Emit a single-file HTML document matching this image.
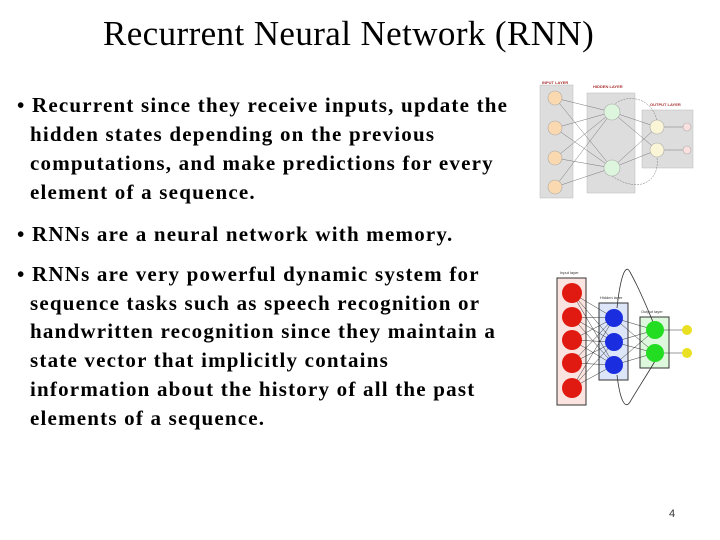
<!DOCTYPE html>
<html><head><meta charset="utf-8"><style>
body{margin:0;width:720px;height:540px;background:#fff;position:relative;overflow:hidden;font-family:"Liberation Serif",serif}
.t{position:absolute;left:103px;top:14px;font-size:35px;white-space:nowrap;line-height:40px;letter-spacing:0.4px}
.l{position:absolute;font-size:21px;font-weight:bold;white-space:nowrap;letter-spacing:1.2px;line-height:20px}
.pn{position:absolute;left:669px;top:508px;font-size:11px;font-family:"Liberation Sans",sans-serif;color:#333}
</style></head><body>
<div class="t">Recurrent Neural Network (RNN)</div>
<div class="l" style="left:17px;top:95px">• Recurrent since they receive inputs, update the</div>
<div class="l" style="left:30px;top:124px">hidden states depending on the previous</div>
<div class="l" style="left:30px;top:153px">computations, and make predictions for every</div>
<div class="l" style="left:30px;top:182px">element of a sequence.</div>
<div class="l" style="left:17px;top:224px">• RNNs are a neural network with memory.</div>
<div class="l" style="left:17px;top:264px">• RNNs are very powerful dynamic system for</div>
<div class="l" style="left:30px;top:293px">sequence tasks such as speech recognition or</div>
<div class="l" style="left:30px;top:321px">handwritten recognition since they maintain a</div>
<div class="l" style="left:30px;top:350px">state vector that implicitly contains</div>
<div class="l" style="left:30px;top:379px">information about the history of all the past</div>
<div class="l" style="left:30px;top:408px">elements of a sequence.</div>
<div class="pn">4</div>
<svg width="720" height="540" style="position:absolute;left:0;top:0" font-family="Liberation Sans">
<g stroke="#777" stroke-width="0.5" fill="none">
<rect x="540" y="85" width="33" height="113" fill="#ddd" stroke="#bbb"/>
<rect x="587" y="93" width="48" height="100" fill="#ddd" stroke="#bbb"/>
<rect x="642" y="110" width="51" height="58" fill="#ddd" stroke="#bbb"/>
<path d="M555 98L612 112M555 98L612 168M555 128L612 112M555 128L612 168M555 158L612 112M555 158L612 168M555 187L612 112M555 187L612 168M612 112L657 127M612 112L657 150M612 168L657 127M612 168L657 150M657 150L687 150M657 127L687 127"/>
<path d="M657 120C650 95 625 95 615 104M612 176C640 195 660 180 657 158" stroke-dasharray="2 1"/>
</g>
<g stroke="#aaa" stroke-width="0.6">
<circle cx="555" cy="98" r="7" fill="#fbd9b0"/><circle cx="555" cy="128" r="7" fill="#fbd9b0"/><circle cx="555" cy="158" r="7" fill="#fbd9b0"/><circle cx="555" cy="187" r="7" fill="#fbd9b0"/>
<circle cx="612" cy="112" r="8" fill="#dcf5dc"/><circle cx="612" cy="168" r="8" fill="#dcf5dc"/>
<circle cx="657" cy="127" r="7" fill="#fbf5d8"/><circle cx="657" cy="150" r="7" fill="#fbf5d8"/>
<circle cx="687" cy="127" r="4" fill="#fbe0e0"/><circle cx="687" cy="150" r="4" fill="#fbe0e0"/>
</g>
<text x="542" y="84" font-size="4" fill="#a33" font-weight="bold">INPUT LAYER</text>
<text x="593" y="88" font-size="4" fill="#a33" font-weight="bold">HIDDEN LAYER</text>
<text x="650" y="106" font-size="4" fill="#a33" font-weight="bold">OUTPUT LAYER</text>
<rect x="557" y="278" width="29" height="127" fill="#fbe3e0" stroke="#333" stroke-width="1"/>
<rect x="599" y="303" width="29" height="77" fill="#dde6f8" stroke="#333" stroke-width="1"/>
<rect x="640" y="317" width="29" height="51" fill="#ddf8dd" stroke="#333" stroke-width="1"/>
<g stroke="#333" stroke-width="0.5" fill="none">
<path d="M572 293L614 318M572 293L614 342M572 293L614 365M572 317L614 318M572 317L614 342M572 317L614 365M572 340L614 318M572 340L614 342M572 340L614 365M572 363L614 318M572 363L614 342M572 363L614 365M572 388L614 318M572 388L614 342M572 388L614 365M614 318L655 330M614 318L655 353M614 342L655 330M614 342L655 353M614 365L655 330M614 365L655 353M655 330L687 330M655 353L687 353"/>
<path d="M617 308C620 280 625 262 630 272C640 290 648 310 653 322M617 375C620 400 625 410 630 402C640 385 650 370 655 361" stroke-width="0.8"/>
</g>
<g>
<circle cx="572" cy="293" r="10" fill="#e01a10"/><circle cx="572" cy="317" r="10" fill="#e01a10"/><circle cx="572" cy="340" r="10" fill="#e01a10"/><circle cx="572" cy="363" r="10" fill="#e01a10"/><circle cx="572" cy="388" r="10" fill="#e01a10"/>
<circle cx="614" cy="318" r="9" fill="#1a2ee0"/><circle cx="614" cy="342" r="9" fill="#1a2ee0"/><circle cx="614" cy="365" r="9" fill="#1a2ee0"/>
<circle cx="655" cy="330" r="9" fill="#22dd22"/><circle cx="655" cy="353" r="9" fill="#22dd22"/>
<circle cx="687" cy="330" r="5" fill="#e8e020"/><circle cx="687" cy="353" r="5" fill="#e8e020"/>
</g>
<text x="560" y="274" font-size="4" fill="#333">Input layer</text>
<text x="600" y="299" font-size="4" fill="#333">Hidden layer</text>
<text x="641" y="313" font-size="4" fill="#333">Output layer</text>
</svg>
</body></html>
